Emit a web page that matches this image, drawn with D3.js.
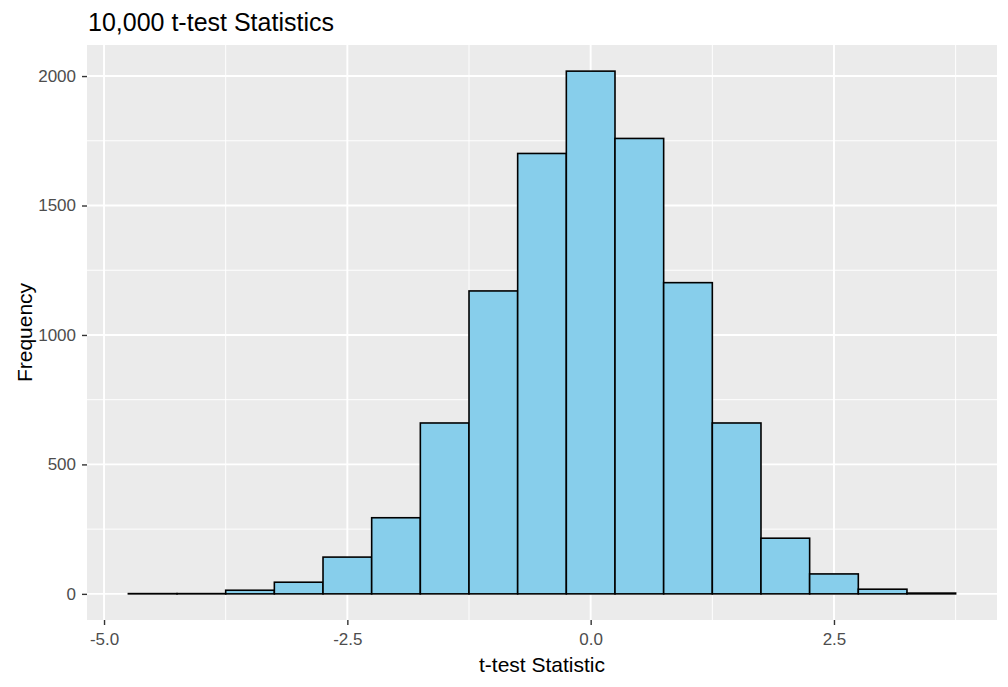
<!DOCTYPE html>
<html>
<head>
<meta charset="utf-8">
<script src="https://cdn.jsdelivr.net/npm/d3@7"></script>
<style>
  body { margin: 0; background: #fff; }
  svg text { font-family: "Liberation Sans", Arial, sans-serif; }
</style>
</head>
<body>
<div id="chart"></div>
<script>
// bin edges (width 0.5) and counts
const binStarts = [-4.75, -4.25, -3.75, -3.25, -2.75, -2.25, -1.75, -1.25, -0.75, -0.25, 0.25, 0.75, 1.25, 1.75, 2.25, 2.75, 3.25];
const counts = [1, 1, 14, 45, 142, 294, 660, 1170, 1701, 2019, 1759, 1202, 660, 215, 77, 18, 3];
const binWidth = 0.5;
const xTicks = [-5.0, -2.5, 0.0, 2.5];
const xMinor = [-3.75, -1.25, 1.25, 3.75];
const yTicks = [0, 500, 1000, 1500, 2000];
const yMinor = [250, 750, 1250, 1750];

const width = 1008, height = 687;
const margin = {top: 45, right: 11, bottom: 67, left: 87};
const pw = width - margin.left - margin.right;
const ph = height - margin.top - margin.bottom;

const svg = d3.select("#chart").append("svg")
  .attr("width", width)
  .attr("height", height);

const xLo = binStarts[0], xHi = binStarts[binStarts.length - 1] + binWidth;
const xPad = (xHi - xLo) * 0.05;
const x = d3.scaleLinear().domain([xLo - xPad, xHi + xPad]).range([0, pw]);
const yMax = d3.max(counts);
const y = d3.scaleLinear().domain([-yMax * 0.05, yMax * 1.05]).range([ph, 0]);

const g = svg.append("g").attr("transform", "translate(" + margin.left + "," + margin.top + ")");

// panel background
g.append("rect").attr("width", pw).attr("height", ph).attr("fill", "#EBEBEB");

// minor grid
g.selectAll(".xminor").data(xMinor).enter().append("line")
  .attr("x1", d => x(d)).attr("x2", d => x(d)).attr("y1", 0).attr("y2", ph)
  .attr("stroke", "#fff").attr("stroke-width", 0.95);
g.selectAll(".yminor").data(yMinor).enter().append("line")
  .attr("y1", d => y(d)).attr("y2", d => y(d)).attr("x1", 0).attr("x2", pw)
  .attr("stroke", "#fff").attr("stroke-width", 0.95);

// major grid
g.selectAll(".xmajor").data(xTicks).enter().append("line")
  .attr("x1", d => x(d)).attr("x2", d => x(d)).attr("y1", 0).attr("y2", ph)
  .attr("stroke", "#fff").attr("stroke-width", 1.9);
g.selectAll(".ymajor").data(yTicks).enter().append("line")
  .attr("y1", d => y(d)).attr("y2", d => y(d)).attr("x1", 0).attr("x2", pw)
  .attr("stroke", "#fff").attr("stroke-width", 1.9);

// bars
g.selectAll(".bar").data(counts).enter().append("rect")
  .attr("x", (d, i) => x(binStarts[i]))
  .attr("width", (d, i) => x(binStarts[i] + binWidth) - x(binStarts[i]))
  .attr("y", d => y(d))
  .attr("height", d => y(0) - y(d))
  .attr("fill", "#87CEEB")
  .attr("stroke", "#000")
  .attr("stroke-width", 1.6);

// axes (plain hyphen for negatives, like R)
const xAxis = g.append("g").attr("transform", "translate(0," + ph + ")")
  .call(d3.axisBottom(x).tickValues(xTicks).tickFormat(d => d.toFixed(1)).tickSizeOuter(0).tickSize(5).tickPadding(8));
const yAxis = g.append("g")
  .call(d3.axisLeft(y).tickValues(yTicks).tickFormat(d => String(d)).tickSizeOuter(0).tickSize(5).tickPadding(6));

[xAxis, yAxis].forEach(a => {
  a.select(".domain").remove();
  a.selectAll(".tick line").attr("stroke", "#333").attr("stroke-width", 1.4);
  a.selectAll(".tick text").attr("fill", "#4D4D4D").attr("font-size", 17)
    .attr("font-family", "'Liberation Sans', Arial, sans-serif");
});

// titles
svg.append("text")
  .attr("x", margin.left + 1).attr("y", 31)
  .attr("font-size", 25).attr("fill", "#000")
  .text("10,000 t-test Statistics");

svg.append("text")
  .attr("x", margin.left + pw / 2).attr("y", 672)
  .attr("text-anchor", "middle")
  .attr("font-size", 21).attr("fill", "#000")
  .text("t-test Statistic");

svg.append("text")
  .attr("transform", "translate(32," + (margin.top + ph / 2) + ") rotate(-90)")
  .attr("text-anchor", "middle")
  .attr("font-size", 21).attr("fill", "#000")
  .text("Frequency");
</script>
</body>
</html>
